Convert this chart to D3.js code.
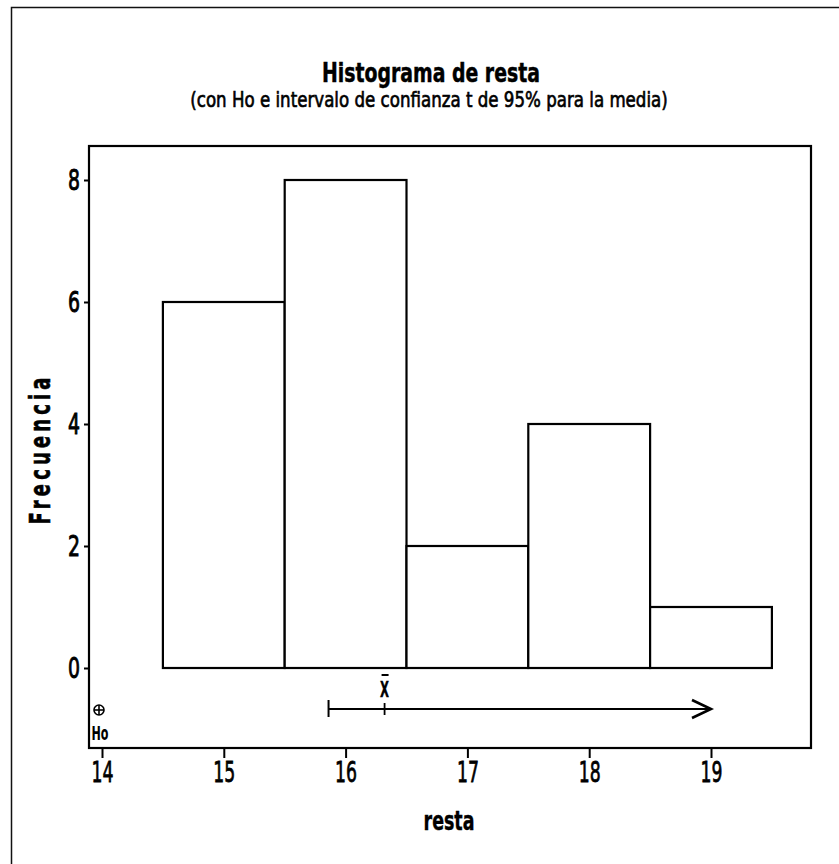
<!DOCTYPE html>
<html>
<head>
<meta charset="utf-8">
<script src="https://cdn.jsdelivr.net/npm/d3@7"></script>
<style>
  html, body { margin: 0; padding: 0; background: #fff; }
  svg { display: block; }
  text { font-family: "DejaVu Sans", sans-serif; fill: #000; }
</style>
</head>
<body>
<script>
// Histogram bins (class limits) and frequencies
const binLower = [14.5, 15.5, 16.5, 17.5, 18.5];
const binUpper = [15.5, 16.5, 17.5, 18.5, 19.5];
const counts   = [6, 8, 2, 4, 1];

// Axis ticks
const xTicks = [14, 15, 16, 17, 18, 19];
const yTicks = [0, 2, 4, 6, 8];

// Hypothesised mean and one-sided 95% t interval for the mean
const h0Value    = 14;
const ciLower    = 15.86;
const sampleMean = 16.32;
const arrowEnd   = 19.0;

const W = 839, H = 864;
const frame = { left: 89, right: 811, top: 146, bottom: 748 };

const svg = d3.select("body").append("svg")
  .attr("width", W).attr("height", H);

// page border (left and top)
svg.append("path")
  .attr("d", `M11.5,${H} V7.5 H${W}`)
  .attr("fill", "none").attr("stroke", "#111").attr("stroke-width", 1.5);

const x = d3.scaleLinear().domain([14, 19]).range([102, 711]);
const y = d3.scaleLinear().domain([0, 8]).range([668, 180]);

// Draws a text horizontally condensed to a given width
function condensed(sel, str, cx, baseline, width, size, weight, sw) {
  const t = sel.append("text")
    .attr("text-anchor", "middle")
    .attr("font-size", size)
    .attr("font-weight", weight)
    .attr("stroke", "#000").attr("stroke-width", sw)
    .text(str);
  const natural = t.node().getComputedTextLength();
  t.attr("transform", `translate(${cx},${baseline}) scale(${width / natural},1)`);
  return t;
}

// titles
condensed(svg, "Histograma de resta", 431, 82, 218, 26, "bold", 0.5);
condensed(svg, "(con Ho e intervalo de confianza t de 95% para la media)", 429, 107, 478, 21, "normal", 0.7);

// bars
svg.append("g").selectAll("rect")
  .data(counts)
  .join("rect")
  .attr("x", (d, i) => x(binLower[i]))
  .attr("width", (d, i) => x(binUpper[i]) - x(binLower[i]))
  .attr("y", d => y(d))
  .attr("height", d => y(0) - y(d))
  .attr("fill", "#fff")
  .attr("stroke", "#000")
  .attr("stroke-width", 2.2);

// plot frame
svg.append("rect")
  .attr("x", frame.left).attr("y", frame.top)
  .attr("width", frame.right - frame.left)
  .attr("height", frame.bottom - frame.top)
  .attr("fill", "none").attr("stroke", "#000").attr("stroke-width", 2.2);

// x axis
const gx = svg.append("g")
  .attr("transform", `translate(0,${frame.bottom})`)
  .call(d3.axisBottom(x).tickValues(xTicks).tickSize(10).tickPadding(3).tickFormat(d3.format("d")));
gx.select(".domain").remove();
gx.selectAll("line").attr("stroke", "#000").attr("stroke-width", 2);
gx.selectAll("text")
  .attr("font-size", 29).attr("font-family", "DejaVu Sans, sans-serif")
  .attr("stroke", "#000").attr("stroke-width", 0.8)
  .attr("textLength", 22).attr("lengthAdjust", "spacingAndGlyphs")
  .attr("fill", "#000");

// y axis
const gy = svg.append("g")
  .attr("transform", `translate(${frame.left},0)`)
  .call(d3.axisLeft(y).tickValues(yTicks).tickSize(5).tickPadding(4).tickFormat(d3.format("d")));
gy.select(".domain").remove();
gy.selectAll("line").attr("stroke", "#000").attr("stroke-width", 2);
gy.selectAll("text")
  .attr("font-size", 29).attr("font-family", "DejaVu Sans, sans-serif")
  .attr("stroke", "#000").attr("stroke-width", 1)
  .attr("textLength", 12).attr("lengthAdjust", "spacingAndGlyphs")
  .attr("fill", "#000");

// axis titles
condensed(svg, "resta", 449, 830, 51, 26, "bold", 0.4);

// y title: narrow bold glyphs with wide tracking
svg.append("text")
  .attr("transform", "translate(50,451) rotate(-90) scale(0.62,1)")
  .attr("text-anchor", "middle")
  .attr("font-size", 29).attr("font-weight", "bold")
  .attr("stroke", "#000").attr("stroke-width", 0.6)
  .attr("textLength", 147 / 0.62).attr("lengthAdjust", "spacing")
  .text("Frecuencia");

// confidence interval: lower bound, mean, open arrow to the right
const ciY = 709;
const ci = svg.append("g").attr("stroke", "#000").attr("fill", "none");
ci.append("line")
  .attr("x1", x(ciLower)).attr("x2", x(arrowEnd))
  .attr("y1", ciY).attr("y2", ciY).attr("stroke-width", 2);
ci.append("line")
  .attr("x1", x(ciLower)).attr("x2", x(ciLower))
  .attr("y1", ciY - 9).attr("y2", ciY + 8).attr("stroke-width", 2);
ci.append("line")
  .attr("x1", x(sampleMean)).attr("x2", x(sampleMean))
  .attr("y1", ciY - 6).attr("y2", ciY + 6).attr("stroke-width", 1.8);
ci.append("path")
  .attr("d", `M${x(arrowEnd) - 19},${ciY - 9} L${x(arrowEnd)},${ciY} L${x(arrowEnd) - 19},${ciY + 9}`)
  .attr("stroke-width", 2.6);

condensed(svg, "X", x(sampleMean), 697, 9, 21, "bold", 0.4);
svg.append("line")
  .attr("x1", x(sampleMean) - 3).attr("x2", x(sampleMean) + 4)
  .attr("y1", 675).attr("y2", 675)
  .attr("stroke", "#000").attr("stroke-width", 2);

// hypothesised mean marker
const hx = x(h0Value) - 3, hy = 710;
const ho = svg.append("g").attr("stroke", "#000").attr("fill", "none").attr("stroke-width", 1.6);
ho.append("circle").attr("cx", hx).attr("cy", hy).attr("r", 5);
ho.append("line").attr("x1", hx - 5).attr("x2", hx + 5).attr("y1", hy).attr("y2", hy);
ho.append("line").attr("x1", hx).attr("x2", hx).attr("y1", hy - 5).attr("y2", hy + 5);
condensed(svg, "Ho", hx + 1, 740, 17, 19, "bold", 0);
</script>
</body>
</html>
